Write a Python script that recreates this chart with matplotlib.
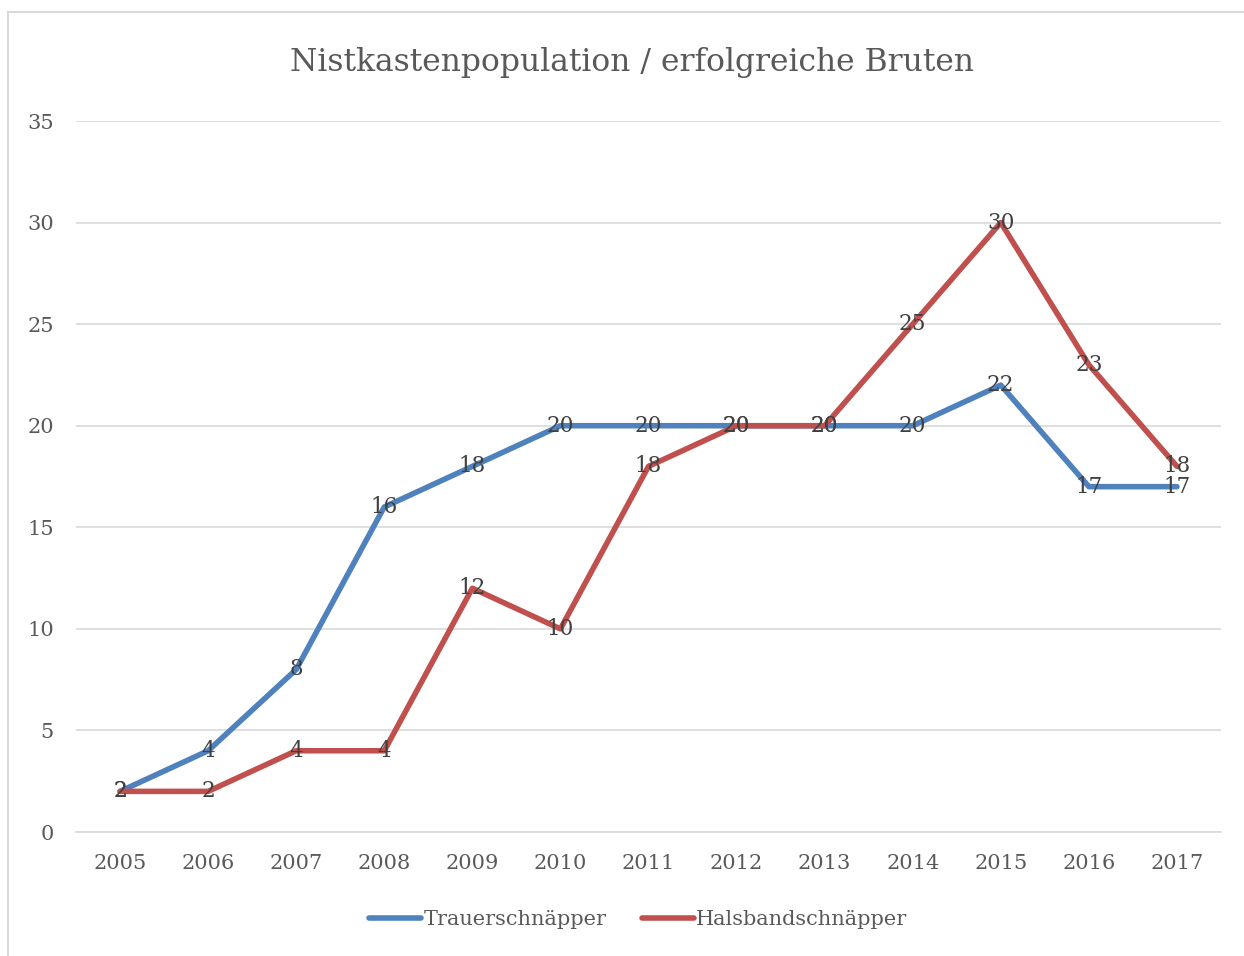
import matplotlib.pyplot as plt
from matplotlib.lines import Line2D

years = ['2005', '2006', '2007', '2008', '2009', '2010', '2011',
         '2012', '2013', '2014', '2015', '2016', '2017']
trauer = [2, 4, 8, 16, 18, 20, 20, 20, 20, 20, 22, 17, 17]
halsband = [2, 2, 4, 4, 12, 10, 18, 20, 20, 25, 30, 23, 18]

plt.rcParams['font.family'] = ['DejaVu Serif']
grey = '#595959'
blue = '#4f81bd'
red = '#c0504d'

fig = plt.figure(figsize=(12.44, 9.56), dpi=100)
ax = fig.add_axes([0.0611, 0.1297, 0.9204, 0.7437])

x = list(range(len(years)))
ax.plot(x, trauer, color=blue, linewidth=4, solid_capstyle='round',
        solid_joinstyle='round', label='Trauerschnäpper', zorder=3)
ax.plot(x, halsband, color=red, linewidth=4, solid_capstyle='round',
        solid_joinstyle='round', label='Halsbandschnäpper', zorder=3)

for i, v in enumerate(trauer):
    ax.text(i, v, str(v), ha='center', va='center', fontsize=15.5,
            color='#404040', zorder=4)
for i, v in enumerate(halsband):
    ax.text(i, v, str(v), ha='center', va='center', fontsize=15.5,
            color='#404040', zorder=4)

ax.set_xlim(-0.5, len(years) - 0.5)
ax.set_ylim(0, 35)
ax.set_yticks(range(0, 36, 5))
ax.set_xticks(x)
ax.set_xticklabels(years)
ax.yaxis.grid(True, color='#d9d9d9', linewidth=1.2)
ax.set_axisbelow(True)
for s in ['top', 'right', 'left']:
    ax.spines[s].set_visible(False)
ax.spines['bottom'].set_color('#d9d9d9')
ax.spines['bottom'].set_linewidth(1.2)
ax.tick_params(axis='both', length=0, labelsize=15, colors=grey)
ax.tick_params(axis='x', pad=16)
ax.tick_params(axis='y', pad=16)

fig.text(0.508, 0.935, 'Nistkastenpopulation / erfolgreiche Bruten',
         ha='center', va='center', fontsize=22.6, color=grey)

leg = fig.legend(loc='center', bbox_to_anchor=(0.513, 0.038), ncol=2,
                 frameon=False, fontsize=15, handlelength=2.5,
                 handletextpad=0.1, columnspacing=1.7)
for t in leg.get_texts():
    t.set_color(grey)

fig.add_artist(Line2D([0.0064, 0.0064], [0.0, 0.9874], color='#d9d9d9',
                      linewidth=1.5, transform=fig.transFigure))
fig.add_artist(Line2D([0.0064, 1.0], [0.9874, 0.9874], color='#d9d9d9',
                      linewidth=1.5, transform=fig.transFigure))

fig.savefig('out.png', dpi=100)
